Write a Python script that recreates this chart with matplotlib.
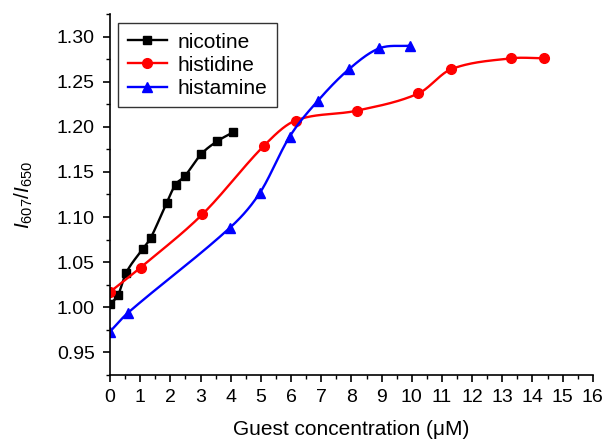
import numpy as np
import matplotlib
matplotlib.use("Agg")
import matplotlib.pyplot as plt

plt.rcParams['font.family'] = ['Liberation Sans', 'DejaVu Sans']
plt.rcParams['mathtext.fontset'] = 'custom'
plt.rcParams['mathtext.rm'] = 'Liberation Sans'
plt.rcParams['mathtext.it'] = 'Liberation Sans:italic'

# Data
nicotine_x = [0.0, 0.26, 0.53, 1.09, 1.35, 1.88, 2.17, 2.47, 3.03, 3.55, 4.08]
nicotine_y = [1.004, 1.013, 1.038, 1.065, 1.077, 1.116, 1.136, 1.145, 1.170, 1.184, 1.194]

histidine_x = [0.0, 1.01, 3.06, 5.10, 6.15, 8.19, 10.22, 11.31, 13.30, 14.38]
histidine_y = [1.017, 1.044, 1.103, 1.179, 1.207, 1.218, 1.237, 1.264, 1.276, 1.276]

histamine_x = [0.0, 0.60, 3.97, 4.97, 5.95, 6.89, 7.92, 8.92, 9.94]
histamine_y = [0.973, 0.994, 1.088, 1.127, 1.189, 1.229, 1.264, 1.287, 1.290]


def smooth(x, y, n=40):
    # cubic hermite through the points, catmull-rom style slopes
    x = np.asarray(x, float)
    y = np.asarray(y, float)
    m = np.zeros_like(y)
    m[1:-1] = (y[2:] - y[:-2]) / (x[2:] - x[:-2])
    m[0] = (y[1] - y[0]) / (x[1] - x[0])
    m[-1] = (y[-1] - y[-2]) / (x[-1] - x[-2])
    xs, ys = [], []
    for i in range(len(x) - 1):
        h = x[i + 1] - x[i]
        t = np.linspace(0, 1, n)
        h00 = 2 * t**3 - 3 * t**2 + 1
        h10 = t**3 - 2 * t**2 + t
        h01 = -2 * t**3 + 3 * t**2
        h11 = t**3 - t**2
        xs.append(x[i] + t * h)
        ys.append(h00 * y[i] + h10 * h * m[i] + h01 * y[i + 1] + h11 * h * m[i + 1])
    return np.concatenate(xs), np.concatenate(ys)


fig = plt.figure(figsize=(6.08, 4.41), dpi=100)
ax = fig.add_axes([0.181, 0.150, 0.794, 0.818])

series = [
    (nicotine_x, nicotine_y, 'black', 's', 6, 'nicotine'),
    (histidine_x, histidine_y, 'red', 'o', 7, 'histidine'),
    (histamine_x, histamine_y, 'blue', '^', 7, 'histamine'),
]
for xv, yv, c, mk, ms, lab in series:
    sx, sy = smooth(xv, yv)
    ax.plot(sx, sy, color=c, lw=1.7)
    ax.plot(xv, yv, ls='none', marker=mk, ms=ms, color=c)
    ax.plot([], [], color=c, lw=1.7, marker=mk, ms=ms, label=lab)

ax.set_xlim(0, 16)
ax.set_ylim(0.925, 1.325)
ax.set_xticks(np.arange(0, 17, 1))
ax.set_xticks(np.arange(0, 16.01, 0.5), minor=True)
ax.set_yticks(np.arange(0.95, 1.301, 0.05))
ax.set_yticks(np.arange(0.925, 1.326, 0.025), minor=True)
ax.yaxis.set_major_formatter(matplotlib.ticker.FormatStrFormatter('%.2f'))

ax.spines['top'].set_visible(False)
ax.spines['right'].set_visible(False)
for s in ['left', 'bottom']:
    ax.spines[s].set_linewidth(1.2)
ax.tick_params(which='major', direction='out', length=5, width=1.2, labelsize=14)
ax.tick_params(which='minor', direction='out', length=3, width=1.0)
ax.tick_params(axis='x', which='major', pad=5)
ax.tick_params(axis='y', which='major', pad=6)
ax.set_xlabel('Guest concentration (\u03bcM)', fontsize=15, labelpad=10)
ax.set_ylabel('$I_{607}/I_{650}$', fontsize=15, labelpad=16)

leg = ax.legend(loc='upper left', fontsize=15, frameon=True, fancybox=False,
                edgecolor='black', handlelength=1.9, borderpad=0.45,
                labelspacing=0.2, handletextpad=0.5, borderaxespad=0,
                bbox_to_anchor=(0.017, 0.975))
leg.get_frame().set_linewidth(1.0)

fig.savefig('out.png', dpi=100)
